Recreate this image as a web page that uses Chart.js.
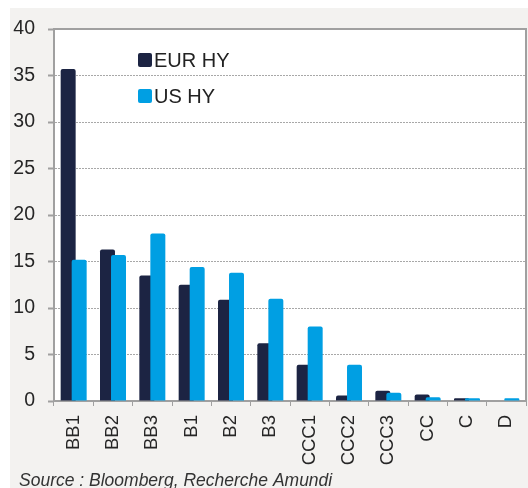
<!DOCTYPE html>
<html>
<head>
<meta charset="utf-8">
<script src="https://cdn.jsdelivr.net/npm/chart.js@4/dist/chart.umd.min.js"></script>
<style>
  html, body { margin: 0; padding: 0; background: #fff; }
  #wrap { position: relative; width: 528px; height: 488px; }
</style>
</head>
<body>
<div id="wrap"><canvas id="myChart" width="528" height="488"></canvas></div>
<script>
var categories = ['BB1', 'BB2', 'BB3', 'B1', 'B2', 'B3', 'CCC1', 'CCC2', 'CCC3', 'CC', 'C', 'D'];
var eurHY = [35.7, 16.3, 13.5, 12.5, 10.9, 6.2, 3.9, 0.6, 1.1, 0.7, 0.3, 0];
var usHY = [15.2, 15.7, 18.0, 14.4, 13.8, 11.0, 8.0, 3.9, 0.9, 0.4, 0.3, 0.3];
var seriesNames = ['EUR HY', 'US HY'];
var colors = ['#1c2443', '#009fe3'];
var sourceText = 'Source : Bloomberg, Recherche Amundi';

// grey panel behind the chart + white plot area
var panel = {
    id: 'panel',
    beforeDraw: function (chart) {
        var ctx = chart.ctx;
        var a = chart.chartArea;
        ctx.save();
        ctx.fillStyle = '#f3f2f0';
        ctx.fillRect(10, 8, chart.width - 10, chart.height - 8);
        ctx.fillStyle = '#ffffff';
        ctx.fillRect(a.left, a.top, a.right - a.left, a.bottom - a.top);
        ctx.restore();
    },
    // draw EUR first so US sits on top of the overlap
    beforeDatasetsDraw: function (chart) {
        var ctx = chart.ctx;
        var a = chart.chartArea;
        ctx.save();
        ctx.beginPath();
        ctx.rect(a.left, a.top - 2, a.right - a.left, a.bottom - a.top + 2);
        ctx.clip();
        for (var i = 0; i < chart.data.datasets.length; i++) {
            chart.getDatasetMeta(i).controller.draw();
        }
        ctx.restore();
        return false;
    },
    afterDraw: function (chart) {
        var ctx = chart.ctx;
        var a = chart.chartArea;
        ctx.save();
        // frame top/right
        ctx.strokeStyle = '#a0a0a0';
        ctx.lineWidth = 2;
        ctx.beginPath();
        ctx.moveTo(a.left, a.top);
        ctx.lineTo(a.right, a.top);
        ctx.lineTo(a.right, a.bottom);
        ctx.stroke();

        // legend inside plot
        ctx.font = '20px "Liberation Sans", Arial, sans-serif';
        ctx.textBaseline = 'middle';
        ctx.textAlign = 'left';
        var lx = a.left + 84;
        var ly = a.top + 31;
        seriesNames.forEach(function (name, i) {
            var y = ly + i * 36;
            ctx.fillStyle = colors[i];
            ctx.beginPath();
            ctx.roundRect(lx, y - 7, 14, 14, 2);
            ctx.fill();
            ctx.fillStyle = '#222';
            ctx.fillText(name, lx + 16, y + 1);
        });

        // source
        ctx.font = 'italic 17.5px "Liberation Sans", Arial, sans-serif';
        ctx.fillStyle = '#333';
        ctx.textBaseline = 'alphabetic';
        ctx.fillText(sourceText, 19, 486);
        ctx.restore();
    }
};

var datasets = [];
seriesNames.forEach(function (name, i) {
    datasets.push({
        label: name,
        data: i == 0 ? eurHY : usHY,
        backgroundColor: colors[i],
        borderRadius: { topLeft: 2, topRight: 2 },
        borderSkipped: 'bottom',
        categoryPercentage: 0.56,
        barPercentage: 1.36
    });
});

var ctx = document.getElementById('myChart').getContext('2d');
var barChart = new Chart(ctx, {
    type: 'bar',
    data: {
        labels: categories,
        datasets: datasets
    },
    options: {
        responsive: false,
        animation: false,
        layout: { padding: { left: 0, right: 2, top: 29, bottom: 0 } },
        plugins: {
            legend: { display: false },
            tooltip: { enabled: false }
        },
        scales: {
            x: {
                afterFit: function (scale) {
                    scale.height = 87;
                    scale.paddingLeft = 0;
                    scale.paddingRight = 0;
                },
                grid: {
                    offset: true,
                    drawOnChartArea: false,
                    drawTicks: true,
                    tickLength: 5,
                    color: '#a0a0a0',
                    tickBorderDash: []
                },
                border: { display: true, color: '#a0a0a0', width: 2 },
                ticks: {
                    minRotation: 90,
                    maxRotation: 90,
                    padding: 9,
                    color: '#262626',
                    font: { family: '"Liberation Sans", Arial, sans-serif', size: 18.5 }
                }
            },
            y: {
                min: 0,
                max: 40,
                afterFit: function (scale) {
                    scale.width = 54;
                    scale.paddingTop = 0;
                    scale.paddingBottom = 0;
                },
                grid: {
                    color: '#a8a8a8',
                    lineWidth: 1,
                    tickLength: 6,
                    tickColor: '#a0a0a0',
                    tickWidth: 2,
                    tickBorderDash: []
                },
                border: { display: true, color: '#a0a0a0', width: 2, dash: [2, 1] },
                ticks: {
                    stepSize: 5,
                    padding: 13,
                    color: '#262626',
                    font: { family: '"Liberation Sans", Arial, sans-serif', size: 19.5 }
                }
            }
        }
    },
    plugins: [panel]
});
</script>
</body>
</html>
